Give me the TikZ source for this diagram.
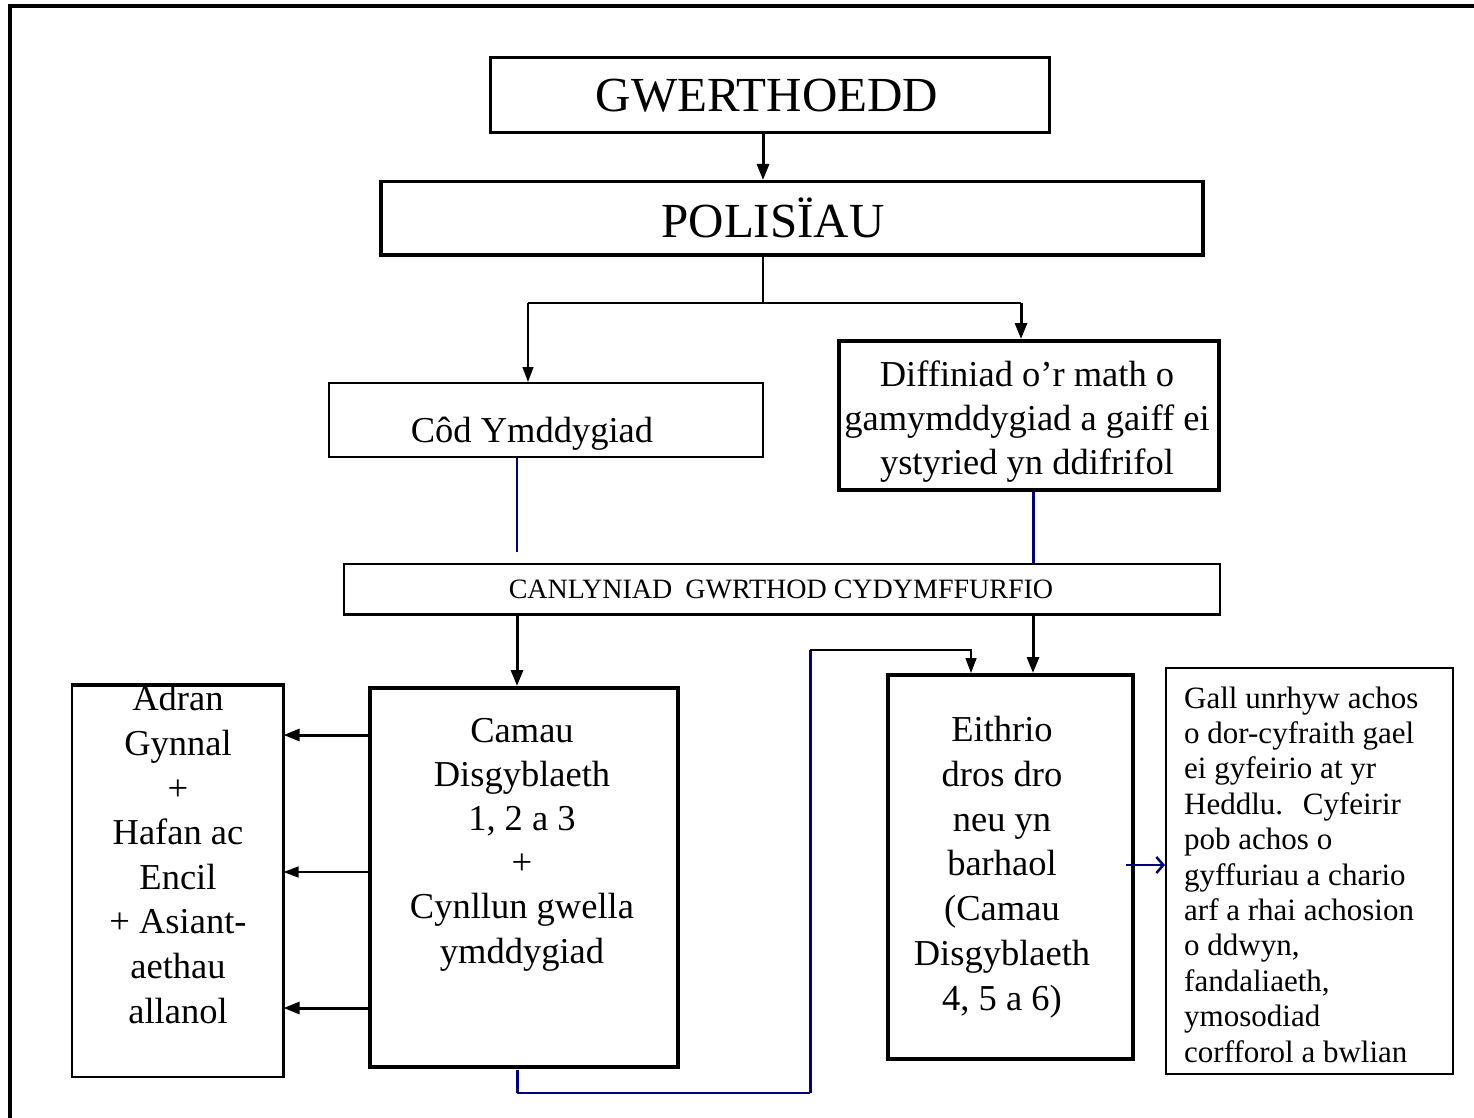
\documentclass[tikz,border=0pt]{standalone}
\usepackage{fontspec}
\setmainfont{Liberation Serif}
\usetikzlibrary{arrows.meta,calc}
\definecolor{navy}{RGB}{0,0,128}
\begin{document}
\begin{tikzpicture}[x=1pt,y=-1pt,
  box/.style={draw, rectangle, inner sep=0pt, anchor=north west},
  thinbox/.style={box, line width=1.6pt},
  thickbox/.style={box, line width=3.5pt},
  txt/.style={inner sep=0pt, align=center, anchor=base, font=\fontsize{36.5}{44.5}\selectfont},
  bigtxt/.style={inner sep=0pt, anchor=base, font=\fontsize{49}{52}\selectfont},
  arr/.style={-{Triangle[length=16pt,width=12pt]}, line width=3pt},
  thinarr/.style={-{Triangle[length=15pt,width=11pt]}, line width=1.4pt},
]
\useasboundingbox (0,0) rectangle (1474,1118);
% outer frame (clipped at right and bottom)
\draw[line width=3.5pt] (10,1118) -- (10,6) -- (1474,6);

% boxes
\node[thickbox, line width=3pt, minimum width=559, minimum height=75] (gw) at (489,56) {};
\node[bigtxt] (gwt) at (767,112) {GWERTHOEDD};

\node[thickbox, minimum width=822, minimum height=73] (pol) at (379,180) {};
\node[bigtxt] (polt) at (773,237) {POLISÏAU};

\node[thinbox, minimum width=434, minimum height=74] (cod) at (328,382) {};
\node[txt] (codt) at (532,442) {Côd Ymddygiad};

\node[thickbox, minimum width=380, minimum height=149] (dif) at (837,339) {};
\node[txt, font=\fontsize{36.5}{44}\selectfont] (dift) at (1027,474) {Diffiniad o’r math o\\gamymddygiad a gaiff ei\\ystyried yn ddifrifol};

\node[thinbox, minimum width=876, minimum height=50] (canl) at (343,563) {};
\draw[line width=3.5pt] (canl.south west) -- (canl.south east);
\node[inner sep=0pt, anchor=base, font=\fontsize{28}{32}\selectfont] (canlt) at (781,598) {CANLYNIAD\hspace{6pt} GWRTHOD CYDYMFFURFIO};

\node[thinbox, minimum width=211, minimum height=391] (adran) at (71,685) {};
\draw[line width=3.5pt] (adran.north west) -- (adran.north east) -- (adran.south east);
\node[txt, font=\fontsize{36.5}{44.6}\selectfont] (adrant) at (178,1023) {Adran\\Gynnal\\+\\Hafan ac\\Encil\\+ Asiant-\\aethau\\allanol};

\node[thickbox, minimum width=308, minimum height=379] (camau) at (368,686) {};
\node[txt, font=\fontsize{36.5}{44.2}\selectfont] (camaut) at (522,963) {Camau\\Disgyblaeth\\1, 2 a 3\\+\\Cynllun gwella\\ymddygiad};

\node[thickbox, line width=4pt, minimum width=245, minimum height=384] (eith) at (886,673) {};
\node[txt, font=\fontsize{36.5}{44.7}\selectfont] (eitht) at (1002,1010) {Eithrio\\dros dro\\neu yn\\barhaol\\(Camau\\Disgyblaeth\\4, 5 a 6)};

\node[thinbox, minimum width=287, minimum height=406] (gall) at (1165,667) {};
\node[inner sep=0pt, align=left, anchor=base west, font=\fontsize{31}{35.4}\selectfont] (gallt) at (1184,1062) {Gall unrhyw achos\\o dor-cyfraith gael\\ei gyfeirio at yr\\Heddlu.\hspace{0.3em} Cyfeirir\\pob achos o\\gyffuriau a chario\\arf a rhai achosion\\o ddwyn,\\fandaliaeth,\\ymosodiad\\corfforol a bwlian};

% helper coordinates
\coordinate (x763) at (763,0);
\coordinate (x528) at (528,0);
\coordinate (x1021) at (1021,0);
\coordinate (x517) at (517,0);
\coordinate (x1033) at (1033,0);
\coordinate (split) at (763,303);
\coordinate (codend) at (517,552);
\coordinate (y735) at (0,735);
\coordinate (y872) at (0,872);
\coordinate (y1008) at (0,1008);
\coordinate (y865) at (0,865);
\coordinate (lb1) at (517,1070);
\coordinate (lb2) at (517,1093);
\coordinate (lb3) at (810,1093);
\coordinate (lt1) at (810,650);
\coordinate (lt2) at (971,650);

% connectors
\draw[arr] (gw.south -| x763) -- (pol.north -| x763);
\draw[line width=1.8pt] (pol.south -| x763) -- (split);
\draw[line width=2.2pt] (split -| x528) -- (split -| x1021);
\draw[thinarr] (split -| x528) -- (cod.north -| x528);
\draw[arr] (split -| x1021) -- (dif.north -| x1021);

\draw[navy, line width=1.3pt] (cod.south -| x517) -- (codend);
\draw[navy, line width=3pt] (dif.south -| x1033) -- (canl.north -| x1033);

\draw[arr] (canl.south -| x517) -- (camau.north -| x517);
\draw[arr] (canl.south -| x1033) -- (eith.north -| x1033);

\draw[arr] (camau.west |- y735) -- (adran.east |- y735);
\draw[thinarr] (camau.west |- y872) -- (adran.east |- y872);
\draw[arr] (camau.west |- y1008) -- (adran.east |- y1008);

\draw[navy, line width=3pt] (lb1) -- (lb2);
\draw[navy, line width=1.8pt] (lb2) -- (lb3);
\draw[navy, line width=3pt] (lb3) -- (lt1);
\draw[thinarr] (lt1) -- (lt2) -- (eith.north -| lt2);

\draw[navy, line width=1.6pt, -{Straight Barb[length=7pt,width=16pt,line width=2.5pt]}] ($(eith.east |- y865)+(-9,0)$) -- (gall.west |- y865);
\end{tikzpicture}
\end{document}
